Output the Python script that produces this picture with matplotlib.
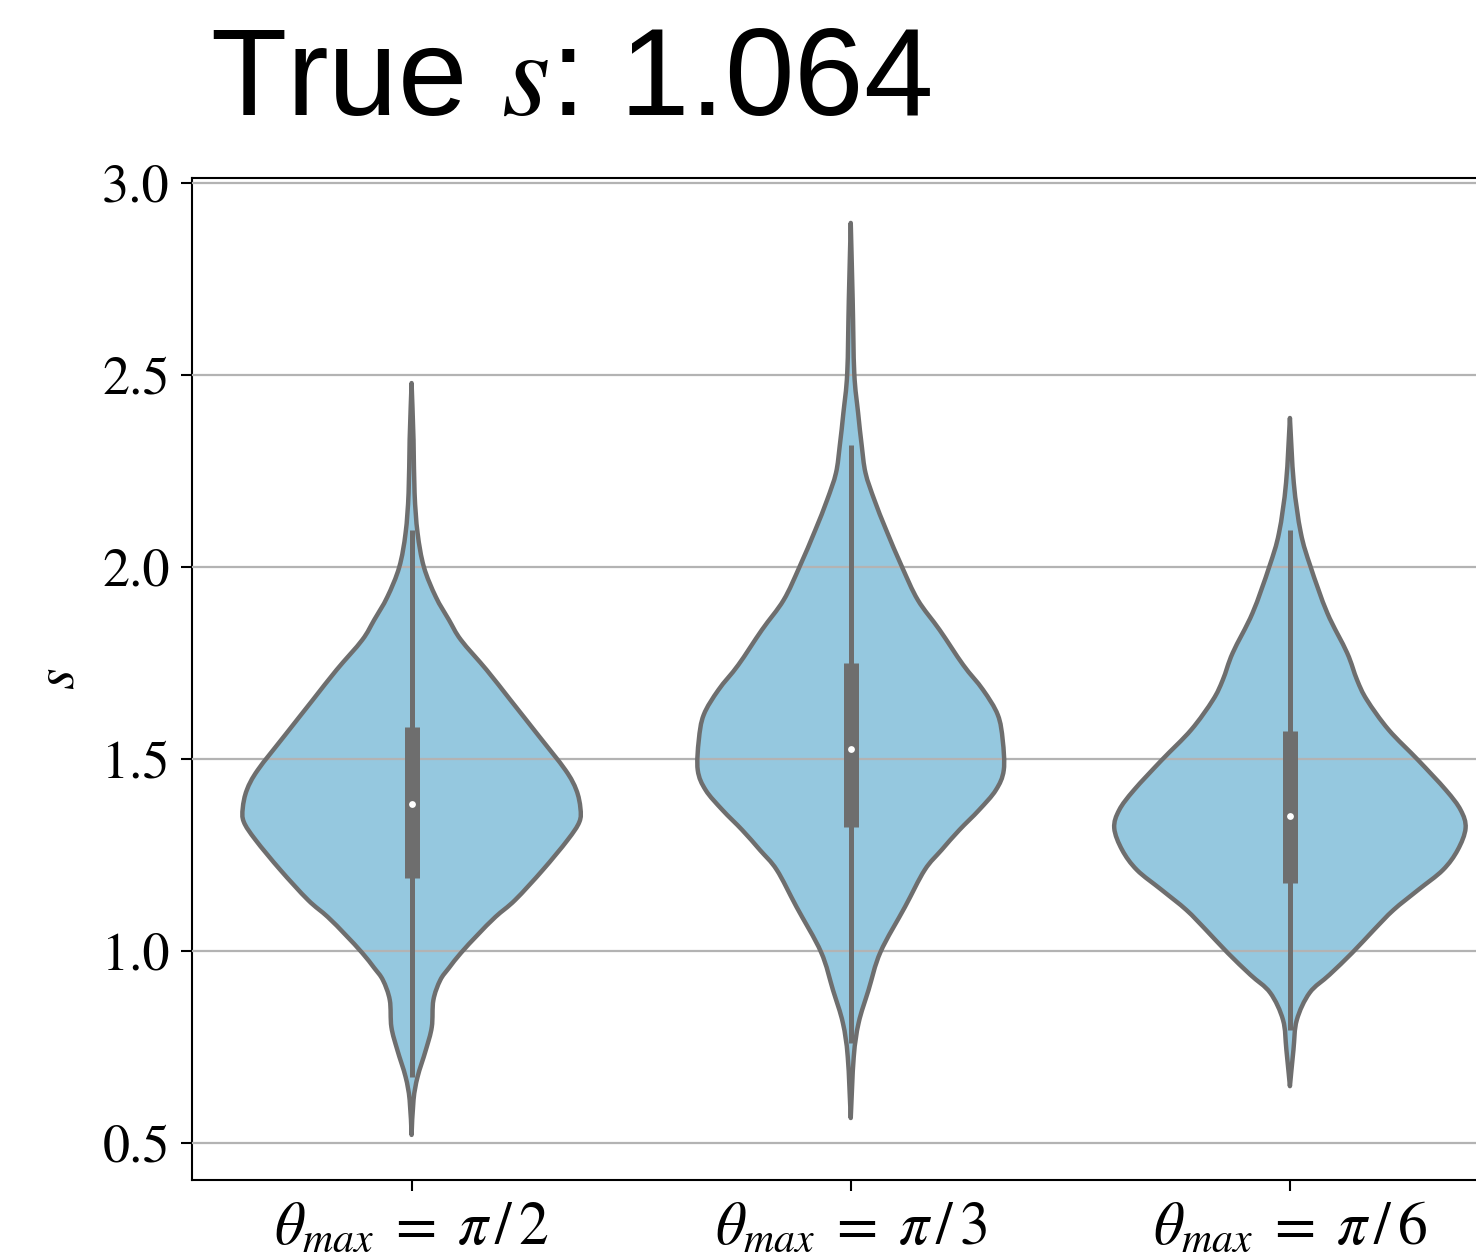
import matplotlib
matplotlib.use("Agg")
import matplotlib.pyplot as plt
from matplotlib.path import Path
from matplotlib.patches import PathPatch
import numpy as np

plt.rcParams["mathtext.fontset"] = "stix"
plt.rcParams["font.family"] = ["STIXGeneral", "DejaVu Serif"]

# ---- data -------------------------------------------------------------
categories = [r"$\theta_{max}\;=\;\pi\,/\,2$", r"$\theta_{max}\;=\;\pi\,/\,3$",
              r"$\theta_{max}\;=\;\pi\,/\,6$"]
true_s = 1.064

# violin outlines: s levels and relative density (widest violin peaks at 1)
s_levels_a = [2.479, 2.331, 2.193, 2.089, 2.000, 1.922, 1.862, 1.810, 1.732, 1.654,
              1.563, 1.471, 1.419, 1.372, 1.336, 1.289, 1.211, 1.133, 1.089, 1.042,
              0.995, 0.956, 0.924, 0.872, 0.802, 0.742, 0.672, 0.612, 0.521]
density_a = [0.0, 0.011, 0.017, 0.034, 0.070, 0.138, 0.213, 0.281, 0.427, 0.562,
             0.719, 0.876, 0.938, 0.961, 0.955, 0.888, 0.747, 0.590, 0.478, 0.376,
             0.281, 0.213, 0.163, 0.124, 0.115, 0.081, 0.034, 0.011, 0.0]

s_levels_b = [2.896, 2.695, 2.505, 2.401, 2.318, 2.245, 2.174, 2.096, 2.000, 1.914,
              1.836, 1.745, 1.680, 1.615, 1.549, 1.471, 1.419, 1.367, 1.315, 1.263,
              1.211, 1.115, 0.997, 0.898, 0.813, 0.724, 0.565]
density_b = [0.0, 0.011, 0.020, 0.042, 0.062, 0.084, 0.135, 0.202, 0.292, 0.382,
             0.506, 0.640, 0.753, 0.837, 0.865, 0.871, 0.826, 0.730, 0.618, 0.517,
             0.421, 0.309, 0.169, 0.101, 0.045, 0.017, 0.0]

s_levels_c = [2.388, 2.219, 2.089, 2.000, 1.880, 1.776, 1.706, 1.654, 1.576, 1.497,
              1.419, 1.367, 1.320, 1.263, 1.211, 1.159, 1.107, 1.055, 0.995, 0.938,
              0.891, 0.820, 0.742, 0.648]
density_c = [0.0, 0.022, 0.062, 0.118, 0.213, 0.326, 0.382, 0.438, 0.562, 0.730,
             0.888, 0.972, 1.0, 0.955, 0.871, 0.730, 0.590, 0.478, 0.354, 0.225,
             0.112, 0.039, 0.020, 0.0]

# inner box summaries: lower whisker, Q1, median, Q3, upper whisker
whisker_low = [0.672, 0.760, 0.794]
quartile_1 = [1.190, 1.323, 1.177]
medians = [1.383, 1.526, 1.352]
quartile_3 = [1.583, 1.750, 1.573]
whisker_high = [2.096, 2.318, 2.096]


def smooth_side(xs, ys):
    """Bezier path vertices/codes passing through the given outline points
    (Catmull-Rom tangents), without the initial MOVETO."""
    pts = np.column_stack([xs, ys])
    n = len(pts)
    verts, codes = [], []
    for k in range(n - 1):
        p0 = pts[k - 1] if k > 0 else pts[k]
        p1, p2 = pts[k], pts[k + 1]
        p3 = pts[k + 2] if k + 2 < n else pts[k + 1]
        c1 = p1 + (p2 - p0) / 6.0
        c2 = p2 - (p3 - p1) / 6.0
        verts += [c1, c2, p2]
        codes += [Path.CURVE4] * 3
    return verts, codes


# ---- figure -----------------------------------------------------------
W, H = 1476, 1257
fig = plt.figure(figsize=(W / 100, H / 100), dpi=100)
ax = fig.add_axes([192 / W, 1 - 1180 / H, (1509.5 - 192) / W, (1180 - 178) / H])

fill_col = "#95c8df"
line_col = "#6e6e6e"
half_max = 0.4

profiles = [(s_levels_a, density_a), (s_levels_b, density_b), (s_levels_c, density_c)]
for i, (lev, dens) in enumerate(profiles):
    lev = np.asarray(lev, float)
    half = np.asarray(dens, float) * half_max
    lv, lc = smooth_side(i - half, lev)
    rv, rc = smooth_side((i + half)[::-1], lev[::-1])
    verts = [(i - half[0], lev[0])] + lv + rv + [(i, lev[0])]
    codes = [Path.MOVETO] + lc + rc + [Path.CLOSEPOLY]
    path = Path(verts, codes)
    ax.add_patch(PathPatch(path, facecolor=fill_col, edgecolor="none", zorder=1))
    ax.add_patch(PathPatch(path, facecolor="none", edgecolor=line_col, lw=3.2,
                           joinstyle="round", capstyle="round", zorder=3))
    ax.plot([i, i], [whisker_low[i], whisker_high[i]], color=line_col, lw=3.6,
            solid_capstyle="butt", zorder=4)
    ax.plot([i, i], [quartile_1[i], quartile_3[i]], color=line_col, lw=10.8,
            solid_capstyle="butt", zorder=4)
    ax.scatter([i], [medians[i]], s=24, color="white", zorder=5, lw=0)

ax.set_xlim(-0.5, 2.5)
ax.set_ylim(0.4036, 3.013)
ax.set_xticks(range(len(categories)))
ax.set_xticklabels(categories, fontsize=43)
ax.set_yticks([0.5, 1.0, 1.5, 2.0, 2.5, 3.0])
ax.set_yticklabels(["0.5", "1.0", "1.5", "2.0", "2.5", "3.0"], fontsize=39)
ax.tick_params(axis="both", width=1.5, length=8, color="black", pad=8)
ax.set_axisbelow(False)
ax.yaxis.grid(True, color="#b3b3b3", lw=1.6)
for side in ["left", "bottom", "top", "right"]:
    ax.spines[side].set_linewidth(1.5)
ax.set_ylabel(r"$s$", fontsize=40, labelpad=12)

fig.text(210 / W, 1 - 115 / H, r"True $s$: " + f"{true_s:.3f}",
         fontsize=90, family=["Liberation Sans", "DejaVu Sans"],
         ha="left", va="baseline")

fig.savefig("out.png", dpi=100)
